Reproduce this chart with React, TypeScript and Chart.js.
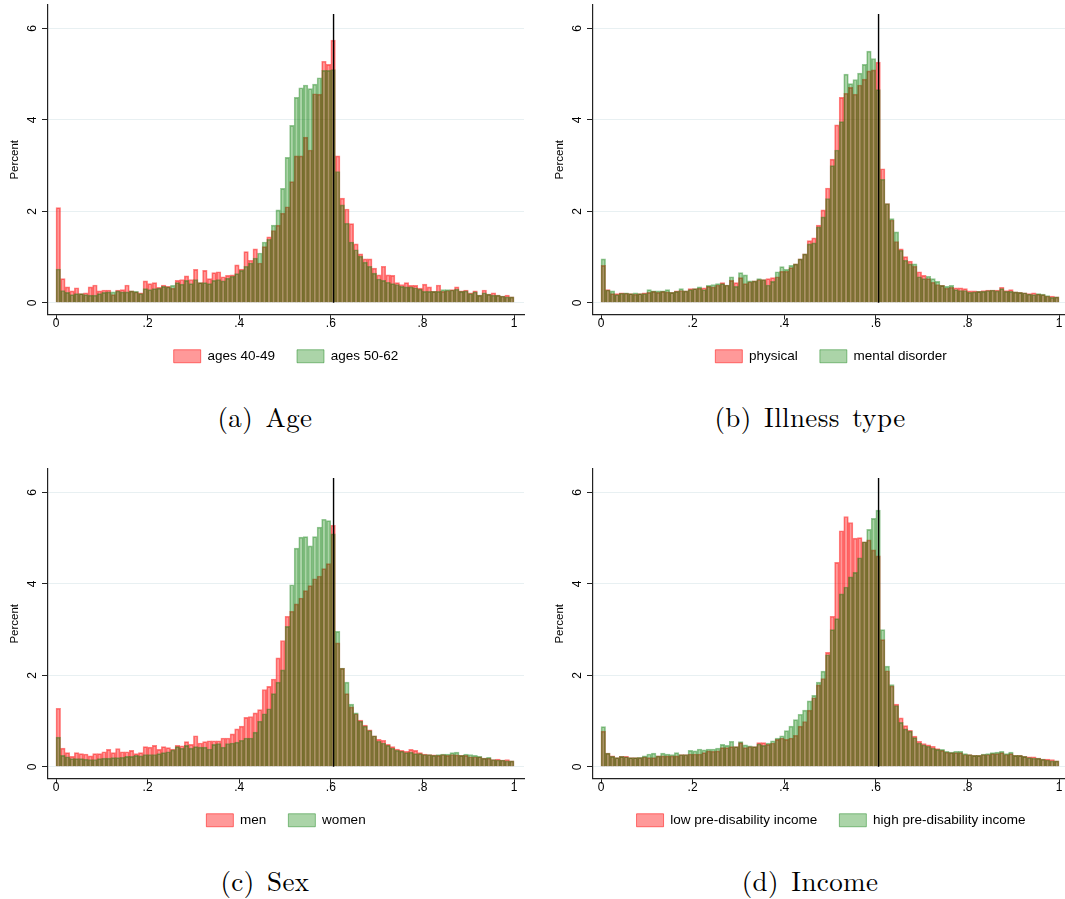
import React, { useEffect, useRef } from "react";
import { Chart, registerables } from "chart.js";

Chart.register(...registerables);

// ---------- categories / ticks ----------
const binCenters: number[] = Array.from({ length: 100 }, (_, i) => (i + 0.5) / 100);
const xTickValues = [0, 0.2, 0.4, 0.6, 0.8, 1];
const xTickLabels = ["0", ".2", ".4", ".6", ".8", "1"];
const yTickValues = [0, 2, 4, 6];
const yTickLabels = ["0", "2", "4", "6"];
const thresholdX = 0.606;
const thresholdTop = 6.31;

// ---------- (a) Age ----------
const ages4049 = [
  2.08, 0.53, 0.35, 0.26, 0.33, 0.2, 0.22, 0.35, 0.39, 0.26,
  0.28, 0.28, 0.18, 0.28, 0.29, 0.39, 0.26, 0.24, 0.22, 0.48,
  0.42, 0.44, 0.34, 0.39, 0.36, 0.32, 0.49, 0.51, 0.59, 0.51,
  0.73, 0.44, 0.71, 0.53, 0.66, 0.68, 0.57, 0.6, 0.61, 0.83,
  0.74, 1.12, 0.93, 1.18, 0.87, 1.23, 1.44, 1.58, 1.7, 1.96,
  2.1, 2.65, 3.21, 3.21, 3.62, 3.34, 4.57, 4.56, 5.28, 5.21,
  5.74, 3.21, 2.29, 2.05, 1.73, 1.29, 1.07, 0.96, 0.96, 0.76,
  0.61, 0.8, 0.61, 0.6, 0.44, 0.4, 0.44, 0.38, 0.38, 0.32,
  0.41, 0.35, 0.25, 0.39, 0.25, 0.27, 0.29, 0.35, 0.26, 0.28,
  0.22, 0.26, 0.17, 0.28, 0.19, 0.22, 0.17, 0.15, 0.17, 0.13,
];
const ages5062 = [
  0.74, 0.27, 0.23, 0.18, 0.2, 0.2, 0.18, 0.17, 0.17, 0.2,
  0.23, 0.24, 0.24, 0.26, 0.24, 0.24, 0.26, 0.25, 0.2, 0.31,
  0.29, 0.31, 0.32, 0.36, 0.35, 0.38, 0.44, 0.41, 0.49, 0.42,
  0.51, 0.44, 0.44, 0.42, 0.49, 0.51, 0.48, 0.54, 0.58, 0.64,
  0.71, 0.8, 0.87, 0.98, 1.09, 1.33, 1.39, 1.7, 2.03, 2.5,
  3.18, 3.88, 4.49, 4.7, 4.76, 4.68, 4.78, 4.92, 5.08, 5.08,
  5.1, 2.87, 2.14, 1.74, 1.33, 1.16, 1.02, 0.89, 0.8, 0.65,
  0.52, 0.49, 0.45, 0.42, 0.4, 0.36, 0.35, 0.35, 0.33, 0.3,
  0.25, 0.25, 0.25, 0.25, 0.29, 0.29, 0.28, 0.3, 0.25, 0.26,
  0.2, 0.24, 0.17, 0.22, 0.19, 0.17, 0.17, 0.15, 0.13, 0.13,
];

// ---------- (b) Illness type ----------
const physical = [
  0.82, 0.29, 0.2, 0.2, 0.22, 0.21, 0.2, 0.19, 0.2, 0.22,
  0.23, 0.25, 0.23, 0.25, 0.24, 0.23, 0.26, 0.27, 0.26, 0.31,
  0.31, 0.32, 0.33, 0.36, 0.35, 0.39, 0.44, 0.39, 0.49, 0.44,
  0.55, 0.42, 0.46, 0.48, 0.51, 0.51, 0.53, 0.55, 0.57, 0.69,
  0.69, 0.77, 0.85, 0.96, 1.07, 1.36, 1.42, 1.7, 2.03, 2.51,
  3.14, 3.89, 4.49, 4.58, 4.71, 4.56, 4.76, 4.89, 5.07, 5.09,
  5.26, 2.93, 2.17, 1.81, 1.34, 1.18, 1.01, 0.91, 0.8, 0.68,
  0.6, 0.53, 0.45, 0.4, 0.38, 0.32, 0.34, 0.33, 0.33, 0.31,
  0.26, 0.26, 0.25, 0.27, 0.28, 0.28, 0.28, 0.34, 0.27, 0.29,
  0.24, 0.23, 0.22, 0.2, 0.22, 0.19, 0.18, 0.15, 0.15, 0.13,
];
const mentalDisorder = [
  0.96, 0.28, 0.26, 0.18, 0.21, 0.22, 0.2, 0.22, 0.2, 0.2,
  0.29, 0.26, 0.26, 0.26, 0.29, 0.23, 0.25, 0.31, 0.26, 0.29,
  0.31, 0.35, 0.29, 0.38, 0.4, 0.42, 0.42, 0.39, 0.57, 0.36,
  0.66, 0.61, 0.48, 0.48, 0.53, 0.51, 0.39, 0.47, 0.68, 0.79,
  0.73, 0.82, 0.85, 0.96, 1.07, 1.29, 1.31, 1.66, 1.88, 2.28,
  3.0, 3.34, 3.96, 5.0, 4.79, 4.88, 5.02, 5.21, 5.5, 5.34,
  4.66, 2.7, 2.17, 1.84, 1.55, 1.15, 0.93, 0.85, 0.85, 0.57,
  0.53, 0.58, 0.53, 0.47, 0.38, 0.36, 0.38, 0.29, 0.27, 0.27,
  0.23, 0.24, 0.25, 0.25, 0.27, 0.28, 0.26, 0.31, 0.25, 0.25,
  0.24, 0.23, 0.22, 0.19, 0.18, 0.2, 0.19, 0.16, 0.12, 0.13,
];

// ---------- (c) Sex ----------
const men = [
  1.28, 0.41, 0.31, 0.23, 0.31, 0.29, 0.28, 0.24, 0.29, 0.29,
  0.33, 0.38, 0.31, 0.4, 0.33, 0.33, 0.36, 0.29, 0.31, 0.44,
  0.43, 0.47, 0.38, 0.44, 0.42, 0.39, 0.47, 0.46, 0.55, 0.49,
  0.68, 0.52, 0.55, 0.57, 0.57, 0.57, 0.63, 0.63, 0.72, 0.83,
  0.89, 1.08, 1.1, 1.18, 1.25, 1.69, 1.76, 1.92, 2.38, 2.76,
  3.29, 3.4, 3.56, 3.69, 3.85, 3.96, 4.11, 4.17, 4.33, 4.44,
  5.28, 2.71, 2.15, 1.6, 1.31, 1.16, 1.02, 0.91, 0.81, 0.68,
  0.6, 0.58, 0.49, 0.44, 0.39, 0.36, 0.34, 0.38, 0.36, 0.31,
  0.28, 0.27, 0.26, 0.25, 0.27, 0.25, 0.27, 0.26, 0.25, 0.25,
  0.22, 0.22, 0.22, 0.19, 0.19, 0.16, 0.17, 0.15, 0.16, 0.13,
];
const women = [
  0.65, 0.25, 0.22, 0.18, 0.18, 0.18, 0.17, 0.16, 0.16, 0.18,
  0.19, 0.19, 0.2, 0.2, 0.21, 0.23, 0.23, 0.25, 0.24, 0.27,
  0.27, 0.27, 0.29, 0.31, 0.33, 0.37, 0.44, 0.41, 0.47, 0.41,
  0.44, 0.43, 0.43, 0.39, 0.49, 0.51, 0.43, 0.51, 0.52, 0.54,
  0.58, 0.63, 0.63, 0.76, 1.0, 1.16, 1.27, 1.6, 1.85, 2.12,
  3.07, 3.98, 4.78, 5.02, 5.03, 4.83, 5.03, 5.24, 5.41, 5.38,
  5.09, 2.96, 2.16, 1.85, 1.37, 1.18, 1.0, 0.89, 0.79, 0.68,
  0.56, 0.52, 0.47, 0.41, 0.36, 0.34, 0.31, 0.32, 0.29, 0.29,
  0.27, 0.27, 0.25, 0.27, 0.28, 0.28, 0.31, 0.32, 0.25, 0.28,
  0.27, 0.25, 0.23, 0.19, 0.21, 0.16, 0.15, 0.15, 0.13, 0.13,
];

// ---------- (d) Income ----------
const lowIncome = [
  0.78, 0.3, 0.24, 0.2, 0.23, 0.23, 0.2, 0.2, 0.2, 0.22,
  0.2, 0.2, 0.24, 0.24, 0.24, 0.24, 0.24, 0.27, 0.27, 0.28,
  0.28, 0.28, 0.31, 0.35, 0.34, 0.35, 0.42, 0.42, 0.44, 0.44,
  0.53, 0.42, 0.44, 0.44, 0.53, 0.53, 0.49, 0.52, 0.6, 0.63,
  0.6, 0.63, 0.69, 0.89, 0.99, 1.24, 1.51, 1.79, 1.93, 2.5,
  3.29, 4.47, 5.16, 5.47, 5.34, 5.0, 5.01, 4.92, 4.96, 4.74,
  4.61, 2.78, 2.1, 1.77, 1.37, 1.07, 0.9, 0.8, 0.67, 0.56,
  0.51, 0.48, 0.45, 0.4, 0.36, 0.32, 0.31, 0.31, 0.31, 0.27,
  0.27, 0.25, 0.25, 0.27, 0.27, 0.29, 0.29, 0.31, 0.27, 0.29,
  0.25, 0.25, 0.23, 0.22, 0.22, 0.19, 0.17, 0.17, 0.16, 0.13,
];
const highIncome = [
  0.88, 0.3, 0.23, 0.2, 0.23, 0.22, 0.2, 0.2, 0.21, 0.24,
  0.28, 0.3, 0.24, 0.3, 0.28, 0.27, 0.31, 0.27, 0.27, 0.36,
  0.35, 0.39, 0.37, 0.39, 0.39, 0.41, 0.49, 0.47, 0.56, 0.44,
  0.55, 0.48, 0.46, 0.44, 0.5, 0.47, 0.52, 0.57, 0.63, 0.68,
  0.79, 0.89, 1.03, 1.15, 1.24, 1.44, 1.56, 1.85, 2.09, 2.45,
  3.0, 3.24, 3.78, 3.93, 4.15, 4.25, 4.57, 4.92, 5.19, 5.43,
  5.61, 3.0, 2.2, 1.8, 1.34, 0.97, 0.83, 0.78, 0.64, 0.52,
  0.48, 0.45, 0.41, 0.38, 0.38, 0.34, 0.32, 0.34, 0.34, 0.29,
  0.27, 0.25, 0.25, 0.28, 0.29, 0.31, 0.32, 0.34, 0.29, 0.32,
  0.25, 0.25, 0.23, 0.2, 0.19, 0.19, 0.17, 0.15, 0.13, 0.13,
];

// ---------- styling ----------
const SANS = "'Liberation Sans', Arial, Helvetica, sans-serif";
const SERIF = "'Latin Modern Roman', 'CMU Serif', 'Liberation Serif', 'Times New Roman', serif";
const RED_FILL = "rgba(255, 0, 0, 0.4)";
const RED_EDGE = "rgba(255, 0, 0, 0.5)";
const GREEN_FILL = "rgba(10, 128, 0, 0.34)";
const GREEN_EDGE = "rgba(0, 120, 0, 0.42)";
const AXIS = "#222222";
const GRID = "#e8f0f2";

const CANVAS_W = 545;
const CANVAS_H = 373;

type PanelProps = {
  left: number;
  top: number;
  redLabel: string;
  greenLabel: string;
  red: number[];
  green: number[];
  caption: string;
};

function Panel({ left, top, redLabel, greenLabel, red, green, caption }: PanelProps) {
  const ref = useRef<HTMLCanvasElement | null>(null);

  useEffect(() => {
    if (!ref.current) return;
    const toPoints = (arr: number[]) => arr.map((v, i) => ({ x: binCenters[i], y: v }));
    const chart = new Chart(ref.current, {
      type: "bar",
      data: {
        datasets: [
          {
            type: "bar",
            label: redLabel,
            data: toPoints(red),
            backgroundColor: RED_FILL,
            borderColor: RED_EDGE,
            borderWidth: 1,
            grouped: false,
            barPercentage: 1,
            categoryPercentage: 1,
            order: 2,
          },
          {
            type: "bar",
            label: greenLabel,
            data: toPoints(green),
            backgroundColor: GREEN_FILL,
            borderColor: GREEN_EDGE,
            borderWidth: 1,
            grouped: false,
            barPercentage: 1,
            categoryPercentage: 1,
            order: 1,
          },
          {
            type: "line",
            label: "threshold",
            data: [
              { x: thresholdX, y: 0 },
              { x: thresholdX, y: thresholdTop },
            ],
            borderColor: "#000000",
            borderWidth: 1.4,
            pointRadius: 0,
            fill: false,
            order: 0,
          },
        ],
      } as any,
      options: {
        animation: false,
        responsive: false,
        devicePixelRatio: 1,
        layout: { padding: { top: 5, right: 21, left: 0, bottom: 0 } },
        plugins: {
          legend: {
            position: "bottom",
            fullSize: false,
            labels: {
              boxWidth: 27,
              boxHeight: 13,
              padding: 22,
              color: "#000",
              font: { family: SANS, size: 13.5 },
              filter: (item: any) => item.datasetIndex < 2,
              sort: (a: any, b: any) => a.datasetIndex - b.datasetIndex,
            },
          },
          tooltip: { enabled: false },
        },
        scales: {
          x: {
            type: "linear",
            offset: false,
            min: -0.01747,
            max: 1.0218,
            afterBuildTicks: (s: any) => {
              s.ticks = xTickValues.map((v) => ({ value: v }));
            },
            afterFit: (s: any) => {
              s.height = 13;
              s.paddingLeft = 0;
              s.paddingRight = 0;
            },
            ticks: {
              autoSkip: false,
              maxRotation: 0,
              minRotation: 0,
              padding: -3,
              color: "#000",
              font: { family: SANS, size: 12 },
              callback: (_v: any, i: number) => xTickLabels[i],
            },
            grid: {
              offset: false,
              drawOnChartArea: false,
              drawTicks: true,
              tickLength: 5,
              tickColor: AXIS,
              tickWidth: 1,
            },
            border: { display: true, color: AXIS, width: 1.2 },
          },
          y: {
            type: "linear",
            min: -0.255,
            max: 6.509,
            afterBuildTicks: (s: any) => {
              s.ticks = yTickValues.map((v) => ({ value: v }));
            },
            afterFit: (s: any) => {
              s.width = 48;
              s.paddingTop = 0;
              s.paddingBottom = 0;
            },
            title: {
              display: true,
              text: "Percent",
              color: "#000",
              font: { family: SANS, size: 11.5 },
              padding: { top: 8, bottom: 0 },
            },
            ticks: {
              minRotation: 90,
              maxRotation: 90,
              crossAlign: "center",
              padding: 6,
              color: "#000",
              font: { family: SANS, size: 12 },
              callback: (_v: any, i: number) => yTickLabels[i],
            },
            grid: {
              drawOnChartArea: true,
              color: GRID,
              lineWidth: 1,
              drawTicks: true,
              tickLength: 6,
              tickColor: AXIS,
              tickWidth: 1,
            },
            border: { display: true, color: AXIS, width: 1.2 },
          },
        },
      } as any,
    });
    return () => chart.destroy();
  }, [red, green, redLabel, greenLabel]);

  return (
    <div style={{ position: "absolute", left, top, width: CANVAS_W, height: 440 }}>
      <canvas
        ref={ref}
        width={CANVAS_W}
        height={CANVAS_H}
        style={{ position: "absolute", left: 0, top: 0, width: CANVAS_W, height: CANVAS_H, display: "block" }}
      />
      <div
        style={{
          position: "absolute",
          left: 265 - 150,
          width: 300,
          top: 400,
          textAlign: "center",
          fontFamily: SERIF,
          fontSize: 27,
          lineHeight: "32px",
          wordSpacing: 3,
          letterSpacing: 0.4,
          color: "#000",
          whiteSpace: "nowrap",
        }}
      >
        {caption}
      </div>
    </div>
  );
}

export default function App() {
  return (
    <div
      style={{
        position: "absolute",
        left: 0,
        top: 0,
        width: 1065,
        height: 899,
        overflow: "hidden",
        background: "#ffffff",
      }}
    >
      <Panel left={0} top={0} redLabel="ages 40-49" greenLabel="ages 50-62" red={ages4049} green={ages5062} caption="(a) Age" />
      <Panel left={545} top={0} redLabel="physical" greenLabel="mental disorder" red={physical} green={mentalDisorder} caption="(b) Illness type" />
      <Panel left={0} top={464} redLabel="men" greenLabel="women" red={men} green={women} caption="(c) Sex" />
      <Panel left={545} top={464} redLabel="low pre-disability income" greenLabel="high pre-disability income" red={lowIncome} green={highIncome} caption="(d) Income" />
    </div>
  );
}
